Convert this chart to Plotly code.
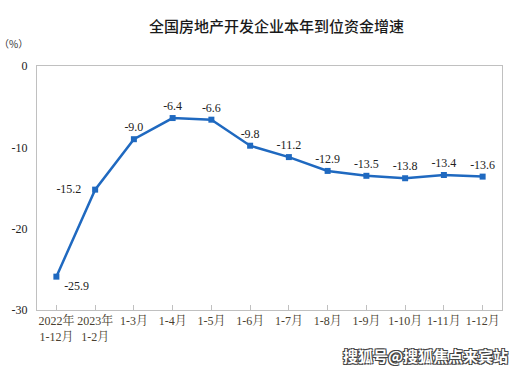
import plotly.graph_objects as go

categories = ["2022年<br>1-12月", "2023年<br>1-2月", "1-3月", "1-4月", "1-5月", "1-6月",
              "1-7月", "1-8月", "1-9月", "1-10月", "1-11月", "1-12月"]
values = [-25.9, -15.2, -9.0, -6.4, -6.6, -9.8, -11.2, -12.9, -13.5, -13.8, -13.4, -13.6]
labels = ["-25.9", "-15.2", "-9.0", "-6.4", "-6.6", "-9.8", "-11.2", "-12.9", "-13.5", "-13.8", "-13.4", "-13.6"]
y_ticks = [0, -10, -20, -30]

positions = ["bottom right", "middle left"] + ["top center"] * 10
templates = [" %{text}", "%{text}   "] + ["%{text}"] * 10

serif = "Liberation Serif, Noto Serif CJK SC, Noto Sans CJK SC, serif"

fig = go.Figure(go.Scatter(
    x=list(range(len(categories))), y=values,
    mode="lines+markers+text",
    line=dict(color="#1f69c0", width=2.5),
    marker=dict(symbol="square", size=6, color="#1f69c0"),
    text=labels, texttemplate=templates, textposition=positions,
    textfont=dict(family=serif, size=12, color="#222222"),
    cliponaxis=False, hoverinfo="skip",
))

fig.update_layout(
    width=525, height=368,
    margin=dict(l=37, r=23, t=66, b=58),
    paper_bgcolor="white", plot_bgcolor="white",
    showlegend=False,
    xaxis=dict(
        tickmode="array", tickvals=list(range(len(categories))), ticktext=categories,
        range=[-0.5, len(categories) - 0.5],
        showline=True, linecolor="#c0c0c0", linewidth=1, mirror=True,
        ticks="inside", ticklen=5, tickcolor="#c0c0c0",
        showgrid=False, zeroline=False, automargin=False,
        tickfont=dict(family=serif, size=12, color="#4a3f30"),
    ),
    yaxis=dict(
        range=[-30, 0], tickvals=y_ticks, ticktext=[str(v) for v in y_ticks],
        showline=True, linecolor="#c0c0c0", linewidth=1, mirror=True,
        ticks="", showgrid=False, zeroline=False, automargin=False,
        tickfont=dict(family=serif, size=12, color="#222222"),
        ticklabelstandoff=6,
    ),
    annotations=[
        dict(text="全国房地产开发企业本年到位资金增速", xref="paper", yref="paper",
             x=0.516, y=1.0, yshift=41, xanchor="center", yanchor="middle", showarrow=False,
             font=dict(family="Noto Sans CJK SC", size=15, color="#1a1a1a", weight=500)),
        dict(text="（%）", xref="paper", yref="paper", x=0, xshift=-40, y=1.0, yshift=23,
             xanchor="left", yanchor="middle", showarrow=False,
             font=dict(family="Noto Sans CJK SC", size=10, color="#333333")),
        dict(text="<b>搜狐号@搜狐焦点来宾站</b>", xref="paper", yref="paper",
             x=1.0, xshift=8, y=0, yshift=-45, xanchor="right", yanchor="middle", showarrow=False,
             font=dict(family="Noto Sans CJK SC", size=15, color="white",
                       shadow="-1px -1px 0 #444, 1px -1px 0 #444, -1px 1px 0 #444, 1px 1px 0 #444")),
    ],
)

fig.write_html("out.html", config={"displayModeBar": False},
               post_script="document.body.style.margin='0';")
